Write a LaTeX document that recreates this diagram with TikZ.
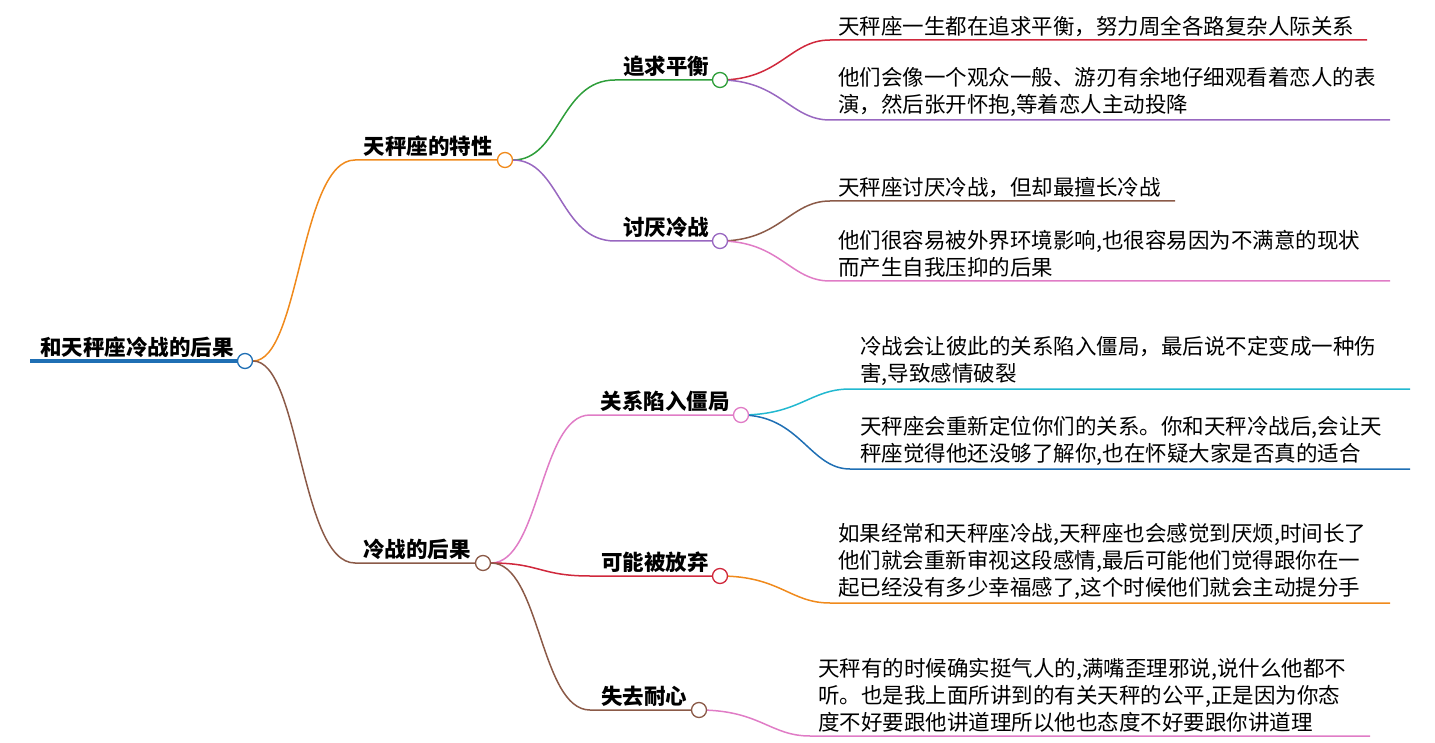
\documentclass[tikz,border=0pt]{standalone}
\usepackage{fontspec}
\setmainfont{Noto Sans CJK SC}
\begin{document}
\begin{tikzpicture}[x=1pt,y=-1pt,
  leaf/.style={anchor=south west,align=left,inner sep=0pt,font=\fontsize{21.5}{27}\selectfont},
  br/.style={anchor=south,inner sep=0pt,font=\fontsize{21.5}{24}\selectfont\bfseries},
  dot/.style={circle,draw=#1,fill=white,line width=1.3pt,minimum size=15pt,inner sep=0pt},
  ln/.style={line width=1.5pt,draw=#1}]
\definecolor{cblue}{HTML}{1F6FB4}\definecolor{corange}{HTML}{F08A1C}
\definecolor{cbrown}{HTML}{8B5A48}\definecolor{cgreen}{HTML}{2E9E3A}
\definecolor{cpurple}{HTML}{9867C0}\definecolor{cpink}{HTML}{E07CC6}
\definecolor{cred}{HTML}{D0283C}\definecolor{ccyan}{HTML}{22B8D0}
\definecolor{cdblue}{HTML}{1F6FB4}
\useasboundingbox (0,0) rectangle (1435,743);
% root
\coordinate (r0) at (30,361);
\node[br] (rt) at (137,358) {和天秤座冷战的后果};
\draw[cblue,line width=4pt] (r0) -- (245,361);
\node[dot=cblue] (rc) at (245,361) {};
% branches
\coordinate (b1l) at (355,160); \coordinate (b2l) at (355,563);
\draw[ln=corange] (rc) .. controls (300,361) and (300,160) .. (b1l) -- (505,160);
\node[br] (b1) at (428,157) {天秤座的特性};
\node[dot=corange] (b1c) at (505,160) {};
\draw[ln=cbrown] (rc) .. controls (300,361) and (300,563) .. (b2l) -- (483,563);
\node[br] (b2) at (417,560) {冷战的后果};
\node[dot=cbrown] (b2c) at (483,563) {};
% sub
\coordinate (s1l) at (615,80);\coordinate (s2l) at (615,241);
\coordinate (s3l) at (590,415);\coordinate (s4l) at (590,576);\coordinate (s5l) at (590,710);
\draw[ln=cgreen] (b1c) .. controls (560,160) and (560,80) .. (s1l) -- (720,80);
\draw[ln=cpurple] (b1c) .. controls (560,160) and (560,241) .. (s2l) -- (720,241);
\draw[ln=cpink] (b2c) .. controls (540,563) and (540,415) .. (s3l) -- (741,415);
\draw[ln=cred] (b2c) .. controls (540,563) and (540,576) .. (s4l) -- (720,576);
\draw[ln=cbrown] (b2c) .. controls (540,563) and (540,710) .. (s5l) -- (699,710);
\node[br] (s1) at (666,77) {追求平衡};
\node[br] (s2) at (666,238) {讨厌冷战};
\node[br] (s3) at (665,412) {关系陷入僵局};
\node[br] (s4) at (655,573) {可能被放弃};
\node[br] (s5) at (644,707) {失去耐心};
% leaves
\coordinate (s1c) at (720,80);\coordinate (s2c) at (720,241);\coordinate (s3c) at (741,415);
\coordinate (s4c) at (720,576);\coordinate (s5c) at (699,710);
\draw[ln=cred] (s1c) .. controls (780,80) and (790,40) .. (830,40) -- (1367,40);
\draw[ln=cpurple] (s1c) .. controls (780,80) and (790,120) .. (830,120) -- (1390,120);
\draw[ln=cbrown] (s2c) .. controls (780,241) and (790,201) .. (830,201) -- (1175,201);
\draw[ln=cpink] (s2c) .. controls (780,241) and (790,281) .. (830,281) -- (1390,281);
\draw[ln=ccyan] (s3c) .. controls (800,415) and (810,389) .. (850,389) -- (1410,389);
\draw[ln=cdblue] (s3c) .. controls (800,415) and (810,469) .. (850,469) -- (1410,469);
\draw[ln=corange] (s4c) .. controls (780,576) and (790,603) .. (830,603) -- (1390,603);
\draw[ln=cpink] (s5c) .. controls (760,710) and (770,736) .. (810,736) -- (1370,736);
\node[leaf] (t1) at (838,37) {天秤座一生都在追求平衡，努力周全各路复杂人际关系};
\node[leaf] (t2) at (838,117) {他们会像一个观众一般、游刃有余地仔细观看着恋人的表\\演，然后张开怀抱,等着恋人主动投降};
\node[leaf] (t3) at (838,198) {天秤座讨厌冷战，但却最擅长冷战};
\node[leaf] (t4) at (838,278) {他们很容易被外界环境影响,也很容易因为不满意的现状\\而产生自我压抑的后果};
\node[leaf] (t5) at (860,386) {冷战会让彼此的关系陷入僵局，最后说不定变成一种伤\\害,导致感情破裂};
\node[leaf] (t6) at (860,466) {天秤座会重新定位你们的关系。你和天秤冷战后,会让天\\秤座觉得他还没够了解你,也在怀疑大家是否真的适合};
\node[leaf] (t7) at (838,600) {如果经常和天秤座冷战,天秤座也会感觉到厌烦,时间长了\\他们就会重新审视这段感情,最后可能他们觉得跟你在一\\起已经没有多少幸福感了,这个时候他们就会主动提分手};
\node[leaf] (t8) at (818,733) {天秤有的时候确实挺气人的,满嘴歪理邪说,说什么他都不\\听。也是我上面所讲到的有关天秤的公平,正是因为你态\\度不好要跟他讲道理所以他也态度不好要跟你讲道理};
% circles on top
\node[dot=cgreen] at (s1c) {};
\node[dot=cpurple] at (s2c) {};
\node[dot=cpink] at (s3c) {};
\node[dot=cred] at (s4c) {};
\node[dot=cbrown] at (s5c) {};
\end{tikzpicture}
\end{document}
